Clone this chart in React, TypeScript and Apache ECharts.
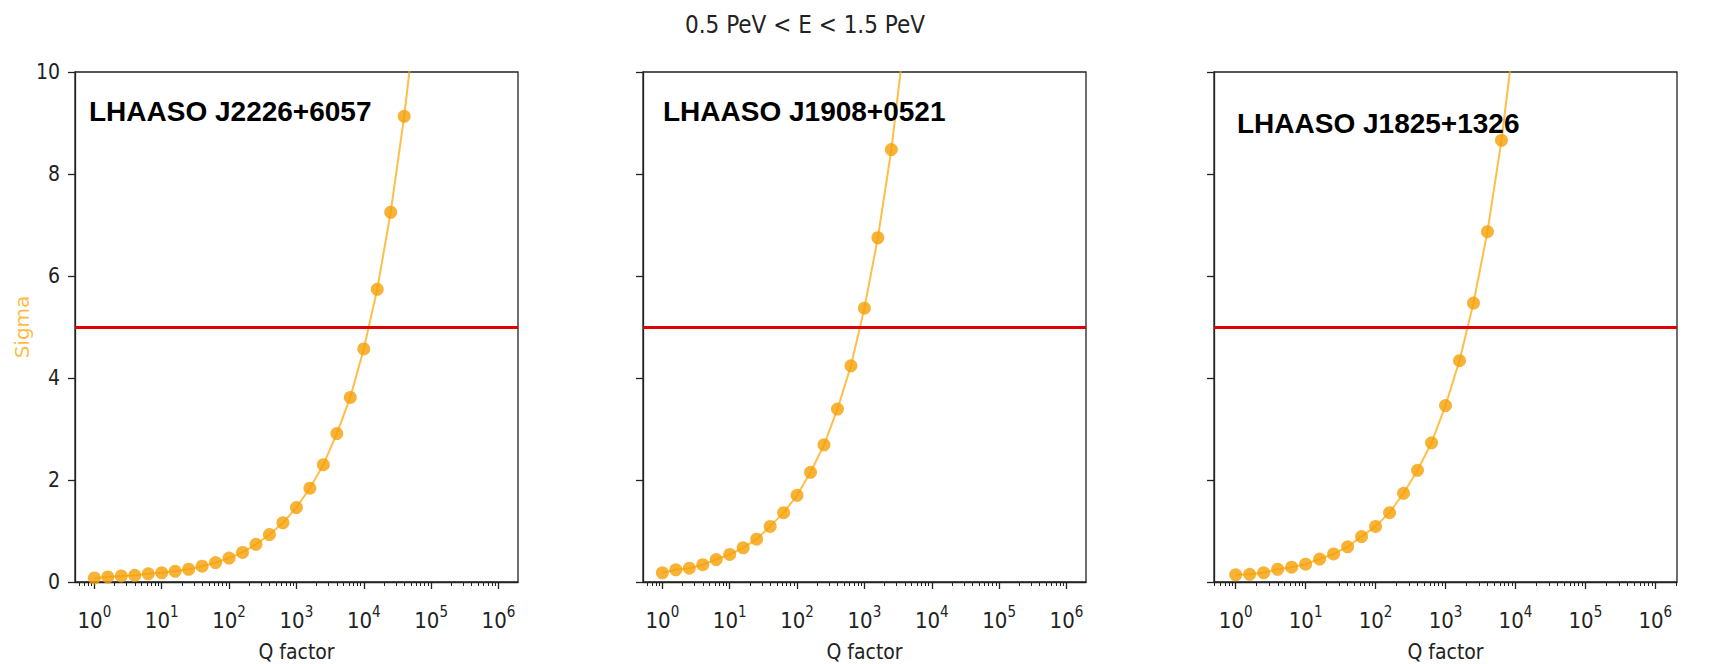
import React, { useEffect, useRef } from 'react';
import * as echarts from 'echarts';

// Q factor sampled values (x)
const qFactor = [
  1, 1.585, 2.512, 3.981, 6.31, 10, 15.85, 25.12, 39.81, 63.1,
  100, 158.5, 251.2, 398.1, 631, 1000, 1585, 2512, 3981, 6310,
  10000, 15850, 25120, 39810, 63100,
];

// Significance (sigma) per source
const sigmaJ2226 = [
  0.08, 0.1, 0.12, 0.13, 0.16, 0.18, 0.21, 0.25, 0.31, 0.38,
  0.47, 0.58, 0.74, 0.93, 1.16, 1.46, 1.84, 2.3, 2.91, 3.62,
  4.57, 5.74, 7.25, 9.13, 11.4,
];
const sigmaJ1908 = [
  0.18, 0.24, 0.27, 0.34, 0.44, 0.54, 0.67, 0.84, 1.09, 1.36,
  1.7, 2.15, 2.69, 3.39, 4.24, 5.37, 6.75, 8.48, 10.7,
];
const sigmaJ1825 = [
  0.14, 0.15, 0.18, 0.25, 0.29, 0.35, 0.45, 0.55, 0.69, 0.89,
  1.09, 1.36, 1.74, 2.19, 2.73, 3.46, 4.34, 5.47, 6.87, 8.66,
  10.9,
];

const sourceNames = ['LHAASO J2226+6057', 'LHAASO J1908+0521', 'LHAASO J1825+1326'];
const xMajorTicks = [1, 10, 100, 1000, 10000, 100000, 1000000];
const xMinorTicks: number[] = [];
for (let e = -1; e <= 6; e++) {
  for (let k = 2; k <= 9; k++) xMinorTicks.push(k * Math.pow(10, e));
}
const yTicks = [0, 2, 4, 6, 8, 10];
const thresholdSigma = 5;
const titleText = '0.5 PeV < E < 1.5 PeV';
const xAxisName = 'Q factor';
const yAxisName = 'Sigma';

const panels = [
  { name: sourceNames[0], sigma: sigmaJ2226, grid: { left: 75, top: 72, width: 443, height: 510 }, xMin: 0.516, xMax: 1.95e6, label: { x: 89, y: 111 } },
  { name: sourceNames[1], sigma: sigmaJ1908, grid: { left: 643, top: 72, width: 443, height: 510 }, xMin: 0.516, xMax: 1.95e6, label: { x: 663, y: 111 } },
  { name: sourceNames[2], sigma: sigmaJ1825, grid: { left: 1214, top: 72, width: 463, height: 510 }, xMin: 0.49, xMax: 2.04e6, label: { x: 1237, y: 123 } },
];

const FONT = '"DejaVu Sans Condensed", "DejaVu Sans", sans-serif';
const AX = '#222';
const ORANGE_LINE = 'rgba(255,165,0,0.72)';
const ORANGE_MARK = 'rgba(245,160,5,0.8)';

export default function App() {
  const ref = useRef<HTMLDivElement>(null);
  useEffect(() => {
    if (!ref.current) return;
    const chart = echarts.init(ref.current, undefined, { renderer: 'svg' });
    const grid: any[] = [];
    const xAxis: any[] = [];
    const yAxis: any[] = [];
    const series: any[] = [];
    const graphic: any[] = [];

    panels.forEach((p, i) => {
      grid.push({
        ...p.grid, show: true, borderColor: AX, borderWidth: 1.3, backgroundColor: 'transparent',
        containLabel: false, outerBoundsMode: 'none',
      });
      // major axis
      xAxis.push({
        type: 'log', gridIndex: i, min: p.xMin, max: p.xMax, logBase: 10,
        axisLine: { show: true, lineStyle: { color: AX, width: 1.3 } },
        axisTick: { show: true, length: 7, customValues: xMajorTicks, lineStyle: { color: AX, width: 1.3 } },
        axisLabel: {
          show: true, customValues: xMajorTicks, margin: 22,
          formatter: (v: number) => `{b|10}{s|${Math.round(Math.log10(v))}}`,
          rich: {
            b: { fontSize: 22, fontFamily: FONT, color: AX, lineHeight: 27, verticalAlign: 'bottom' },
            s: { fontSize: 15, fontFamily: FONT, color: AX, lineHeight: 27, verticalAlign: 'top' },
          },
        },
        splitLine: { show: false },
        minorTick: { show: false },
        name: xAxisName, nameLocation: 'middle', nameGap: 59,
        nameTextStyle: { fontSize: 21, lineHeight: 21, fontFamily: FONT, color: AX },
      });
      // minor ticks axis
      xAxis.push({
        type: 'log', gridIndex: i, min: p.xMin, max: p.xMax, logBase: 10, position: 'bottom',
        axisLine: { show: false },
        axisTick: { show: true, length: 4, customValues: xMinorTicks, lineStyle: { color: AX, width: 1 } },
        axisLabel: { show: false },
        splitLine: { show: false },
      });
      yAxis.push({
        type: 'value', gridIndex: i, min: 0, max: 10, interval: 2,
        axisLine: { show: true, lineStyle: { color: AX, width: 1.3 } },
        axisTick: { show: true, length: 7, customValues: yTicks, lineStyle: { color: AX, width: 1.3 } },
        axisLabel: { show: i === 0, margin: 15, fontSize: 21, fontFamily: FONT, color: AX, customValues: yTicks },
        splitLine: { show: false },
        name: i === 0 ? yAxisName : '', nameLocation: 'middle', nameGap: 42, nameRotate: 90,
        nameTextStyle: { fontSize: 20, fontFamily: '"DejaVu Sans", sans-serif', color: 'rgba(255,165,0,0.75)' },
      });
      series.push({
        type: 'line', name: p.name, xAxisIndex: i * 2, yAxisIndex: i,
        data: p.sigma.map((s, k) => [qFactor[k], s]),
        symbol: 'circle', symbolSize: 13, clip: true,
        itemStyle: { color: ORANGE_MARK },
        lineStyle: { color: ORANGE_LINE, width: 2 },
        markLine: {
          silent: true, symbol: 'none', label: { show: false },
          lineStyle: { color: '#e00000', width: 3, type: 'solid' },
          data: [{ yAxis: thresholdSigma }],
        },
        z: 3,
      });
      graphic.push({
        type: 'text', x: p.label.x, y: p.label.y, z: 10,
        style: {
          text: p.name, font: 'bold 28px "Liberation Sans", Arial, sans-serif',
          fill: '#000', textAlign: 'left', textVerticalAlign: 'middle',
        },
      });
    });

    graphic.push({
      type: 'text', x: 805, y: 25,
      style: { text: titleText, font: `24px ${FONT}`, fill: AX, textAlign: 'center', textVerticalAlign: 'middle' },
    });

    chart.setOption({
      animation: false,
      backgroundColor: '#fff',
      grid, xAxis, yAxis, series, graphic,
    });
    return () => chart.dispose();
  }, []);
  return <div ref={ref} style={{ position: 'absolute', left: 0, top: 0, width: 1735, height: 664 }} />;
}
